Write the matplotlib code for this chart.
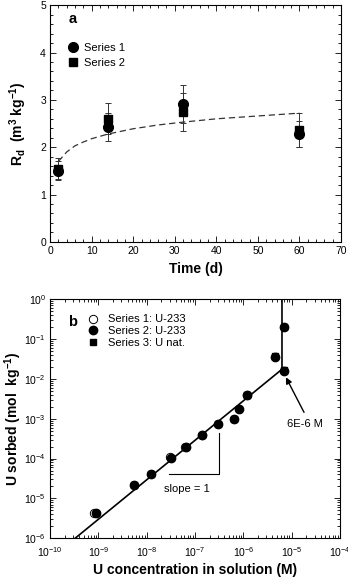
import numpy as np
import matplotlib
matplotlib.use("Agg")
import matplotlib.pyplot as plt
from matplotlib.ticker import MultipleLocator, LogLocator, NullFormatter

plt.rcParams['font.family'] = ['Liberation Sans', 'DejaVu Sans']
plt.rcParams['mathtext.fontset'] = 'custom'
plt.rcParams['mathtext.rm'] = 'Liberation Sans'
plt.rcParams['mathtext.bf'] = 'Liberation Sans:bold'
plt.rcParams['mathtext.it'] = 'Liberation Sans:italic'

# panel a: Rd vs time
time_d = [2, 14, 32, 60]
rd_s1 = [1.50, 2.43, 2.92, 2.28]
rd_s1_err = [0.20, 0.30, 0.40, 0.28]
rd_s2 = [1.55, 2.60, 2.75, 2.37]
rd_s2_err = [0.22, 0.33, 0.40, 0.36]
fit_t = [2, 4, 6, 8, 10, 14, 20, 26, 32, 40, 50, 60]
fit_rd = [1.70, 1.90, 2.03, 2.11, 2.18, 2.28, 2.39, 2.47, 2.53, 2.60, 2.66, 2.72]

# panel b: isotherm
s1_c = [8.0e-10, 3.1e-8, 6.3e-8, 1.4e-7, 1.2e-6]
s1_q = [4.4e-6, 1.07e-4, 2.0e-4, 3.9e-4, 3.9e-3]
s2_c = [9.0e-10, 5.5e-9, 1.2e-8, 3.2e-8, 6.5e-8, 1.4e-7, 3.0e-7, 6.5e-7, 8.1e-7, 1.2e-6, 4.6e-6, 7.1e-6, 7.0e-6]
s2_q = [4.3e-6, 2.2e-5, 4.2e-5, 1.05e-4, 2.0e-4, 3.9e-4, 7.4e-4, 9.8e-4, 1.8e-3, 3.9e-3, 3.6e-2, 0.20, 1.6e-2]
s3_c = [5.5e-9, 1.2e-8, 3.0e-7, 6.5e-7, 1.2e-6, 4.6e-6, 7.1e-6, 7.0e-6]
s3_q = [2.2e-5, 4.2e-5, 7.6e-4, 1.0e-3, 4.0e-3, 3.7e-2, 0.20, 1.7e-2]
line_c = [3.3e-10, 6.3e-6, 6.3e-6]
line_q = [1.0e-6, 1.75e-2, 1.0]
slope_c = [2.95e-8, 3.2e-7, 3.2e-7]
slope_q = [4.1e-5, 4.1e-5, 4.3e-4]

fig = plt.figure(figsize=(3.48, 5.8), dpi=100)
ax1 = fig.add_axes([0.144, 0.583, 0.836, 0.408])
ax2 = fig.add_axes([0.144, 0.072, 0.833, 0.412])

# ---- panel a
ax1.plot(fit_t, fit_rd, color='#333333', ls=(0, (5, 3)), lw=0.9)
ax1.errorbar(time_d, rd_s1, yerr=rd_s1_err, fmt='none', ecolor='#333333',
             elinewidth=0.7, capsize=2, capthick=0.7)
ax1.errorbar(time_d, rd_s2, yerr=rd_s2_err, fmt='none', ecolor='#333333',
             elinewidth=0.7, capsize=2, capthick=0.7)
ax1.plot(time_d, rd_s1, 'o', color='black', ms=7, ls='none', label='Series 1')
ax1.plot(time_d, rd_s2, 's', color='black', ms=6, ls='none', label='Series 2')
ax1.set_xlim(0, 70)
ax1.set_ylim(0, 5)
ax1.xaxis.set_major_locator(MultipleLocator(10))
ax1.xaxis.set_minor_locator(MultipleLocator(2))
ax1.yaxis.set_major_locator(MultipleLocator(1))
ax1.yaxis.set_minor_locator(MultipleLocator(0.2))
ax1.tick_params(which='both', labelsize=7.5)
ax1.set_xlabel('Time (d)', fontsize=10, fontweight='bold', labelpad=4)
ax1.set_ylabel(r'$\mathbf{R_d\ \ (m^3\ kg^{-1})}$', fontsize=10, labelpad=8)
ax1.text(0.063, 0.94, 'a', transform=ax1.transAxes, fontsize=10.5, fontweight='bold', va='center')
ax1.legend(loc='upper left', bbox_to_anchor=(0.04, 0.86), frameon=False, fontsize=8,
           handletextpad=0.4, labelspacing=0.45, borderaxespad=0, handlelength=1.2)

# ---- panel b
ax2.plot(line_c, line_q, color='black', lw=1.2)
ax2.plot(slope_c, slope_q, color='black', lw=0.8)
ax2.plot(s1_c, s1_q, 'o', mfc='white', mec='black', mew=0.7, ms=6, ls='none', label='Series 1: U-233')
ax2.plot(s2_c, s2_q, 'o', color='black', ms=6, ls='none', label='Series 2: U-233')
ax2.plot(s3_c, s3_q, 's', color='black', ms=5, ls='none', label='Series 3: U nat.')
ax2.set_xscale('log')
ax2.set_yscale('log')
ax2.set_xlim(1e-10, 1e-4)
ax2.set_ylim(1e-6, 1)
ax2.text(6.7e-8, 1.7e-5, 'slope = 1', fontsize=8, ha='center', va='center')
ax2.annotate('', xy=(7.6e-6, 1.1e-2), xytext=(1.8e-5, 1.45e-3),
             arrowprops=dict(arrowstyle='-|>', color='black', lw=1.0, mutation_scale=9,
                             shrinkA=0, shrinkB=0))
ax2.text(1.9e-5, 7.6e-4, '6E-6 M', fontsize=8, ha='center', va='center')
ax2.xaxis.set_major_locator(LogLocator(base=10, numticks=10))
ax2.xaxis.set_minor_locator(LogLocator(base=10, subs=np.arange(2, 10), numticks=20))
ax2.xaxis.set_minor_formatter(NullFormatter())
ax2.yaxis.set_major_locator(LogLocator(base=10, numticks=10))
ax2.yaxis.set_minor_locator(LogLocator(base=10, subs=np.arange(2, 10), numticks=20))
ax2.yaxis.set_minor_formatter(NullFormatter())
ax2.tick_params(which='both', labelsize=7.5)
ax2.set_xlabel('U concentration in solution (M)', fontsize=10, fontweight='bold', labelpad=3)
ax2.set_ylabel(r'$\mathbf{U\ sorbed\ (mol\ \ kg^{-1})}$', fontsize=10, labelpad=0)
ax2.text(0.063, 0.905, 'b', transform=ax2.transAxes, fontsize=10.5, fontweight='bold', va='center')
ax2.legend(loc='upper left', bbox_to_anchor=(0.115, 0.955), frameon=False, fontsize=8,
           handletextpad=0.8, labelspacing=0.15, borderaxespad=0, handlelength=1.0)

for ax in (ax1, ax2):
    ax.tick_params(which='both', direction='in', top=True, right=True, width=0.6)
    ax.tick_params(which='major', length=4, pad=3)
    ax.tick_params(which='minor', length=2.2)
    for s in ax.spines.values():
        s.set_linewidth(0.8)
ax2.tick_params(axis='x', which='major', pad=5)

fig.savefig('out.png', dpi=100)
